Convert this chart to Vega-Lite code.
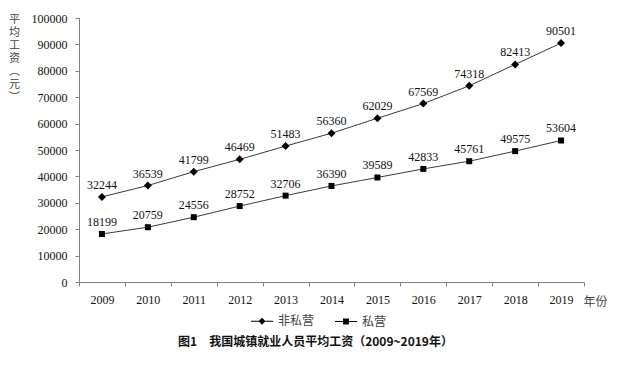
{
  "$schema": "https://vega.github.io/schema/vega-lite/v6.json",
  "width": 505,
  "height": 264,
  "autosize": "none",
  "padding": {"left": 79, "top": 18, "right": 34, "bottom": 98},
  "background": "white",
  "config": {
    "view": {"stroke": null},
    "font": "Liberation Serif",
    "axis": {"labelFont": "Liberation Serif", "labelFontSize": 12, "labelColor": "#111", "domainColor": "#808080", "tickColor": "#808080", "tickSize": 4, "grid": false}
  },
  "title": {
    "text": "图1　我国城镇就业人员平均工资（2009~2019年）",
    "orient": "bottom",
    "font": "Noto Sans CJK SC",
    "fontSize": 12,
    "fontWeight": "bold",
    "color": "#111",
    "anchor": "middle",
    "dx": -16,
    "offset": 9
  },
  "data": {
    "values": [
      {"year": "2009", "series": "非私营", "value": 32244},
      {"year": "2010", "series": "非私营", "value": 36539},
      {"year": "2011", "series": "非私营", "value": 41799},
      {"year": "2012", "series": "非私营", "value": 46469},
      {"year": "2013", "series": "非私营", "value": 51483},
      {"year": "2014", "series": "非私营", "value": 56360},
      {"year": "2015", "series": "非私营", "value": 62029},
      {"year": "2016", "series": "非私营", "value": 67569},
      {"year": "2017", "series": "非私营", "value": 74318},
      {"year": "2018", "series": "非私营", "value": 82413},
      {"year": "2019", "series": "非私营", "value": 90501},
      {"year": "2009", "series": "私营", "value": 18199},
      {"year": "2010", "series": "私营", "value": 20759},
      {"year": "2011", "series": "私营", "value": 24556},
      {"year": "2012", "series": "私营", "value": 28752},
      {"year": "2013", "series": "私营", "value": 32706},
      {"year": "2014", "series": "私营", "value": 36390},
      {"year": "2015", "series": "私营", "value": 39589},
      {"year": "2016", "series": "私营", "value": 42833},
      {"year": "2017", "series": "私营", "value": 45761},
      {"year": "2018", "series": "私营", "value": 49575},
      {"year": "2019", "series": "私营", "value": 53604}
    ]
  },
  "encoding": {
    "x": {
      "field": "year",
      "type": "ordinal",
      "scale": {"type": "band", "paddingInner": 0, "paddingOuter": 0},
      "axis": {
        "tickBand": "extent",
        "labelAngle": 0,
        "labelPadding": 8,
        "title": "年份",
        "titleFont": "Noto Sans CJK SC",
        "titleFontSize": 12,
        "titleFontWeight": "normal",
        "titleColor": "#444",
        "titleAlign": "left",
        "titleBaseline": "middle",
        "titleAnchor": null,
        "titleX": 504,
        "titleY": 19
      }
    },
    "y": {
      "field": "value",
      "type": "quantitative",
      "scale": {"domain": [0, 100000], "nice": false},
      "axis": {
        "values": [0, 10000, 20000, 30000, 40000, 50000, 60000, 70000, 80000, 90000, 100000],
        "format": "d",
        "labelPadding": 8,
        "title": ["平", "均", "工", "资", "︵", "元", "︶"],
        "titleFont": "Noto Sans CJK SC",
        "titleFontSize": 11,
        "titleFontWeight": "normal",
        "titleColor": "#444",
        "titleAngle": 0,
        "titleAlign": "center",
        "titleBaseline": "top",
        "titleLineHeight": 13,
        "titleAnchor": null,
        "titleX": -65,
        "titleY": -5
      }
    }
  },
  "layer": [
    {
      "mark": {"type": "line", "color": "#3a3a3a", "strokeWidth": 1},
      "encoding": {"detail": {"field": "series"}}
    },
    {
      "mark": {"type": "point", "filled": true, "color": "#000", "opacity": 1, "size": 64},
      "encoding": {
        "shape": {
          "field": "series",
          "type": "nominal",
          "scale": {
            "domain": ["非私营", "私营"],
            "range": ["M-1,0L0,-1L1,0L0,1Z", "M-0.75,-0.75H0.75V0.75H-0.75Z"]
          },
          "legend": null
        }
      }
    },
    {
      "transform": [{"filter": "false"}],
      "mark": {"type": "point", "filled": true, "color": "#000", "opacity": 1, "size": 484},
      "encoding": {
        "shape": {
          "field": "series",
          "type": "nominal",
          "scale": {
            "domain": ["非私营", "私营"],
            "range": ["M-1,-0.045H1V0.045H-1ZM0,-0.32L0.32,0L0,0.32L-0.32,0Z", "M-1,-0.045H1V0.045H-1ZM-0.27,-0.27H0.27V0.27H-0.27Z"]
          },
          "legend": {
            "title": null,
            "orient": "none",
            "direction": "horizontal",
            "legendX": 171,
            "legendY": 291,
            "padding": 0,
            "columnPadding": 17,
            "labelOffset": 4,
            "labelFont": "Noto Sans CJK SC",
            "labelFontSize": 12,
            "labelColor": "#444",
            "symbolSize": 484,
            "symbolFillColor": "#000"
          }
        }
      }
    },
    {
      "mark": {"type": "text", "font": "Liberation Serif", "fontSize": 12, "color": "#111", "baseline": "middle", "align": "center", "dy": -12},
      "encoding": {"text": {"field": "value", "type": "quantitative", "format": "d"}}
    }
  ],
  "resolve": {"scale": {"shape": "independent"}, "legend": {"shape": "independent"}}
}
